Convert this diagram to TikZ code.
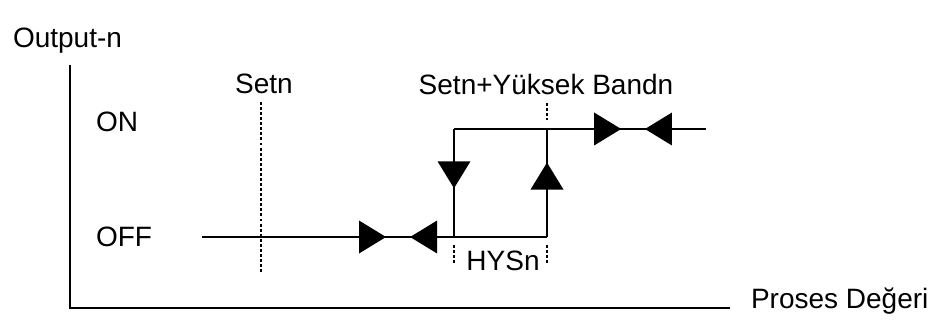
\documentclass[tikz,border=0pt]{standalone}
\usepackage{fontspec}
\setmainfont{Liberation Sans}
\usetikzlibrary{decorations.markings}

\begin{document}
\begin{tikzpicture}[x=0.75pt,y=0.75pt,every node/.style={inner sep=0pt,outer sep=0pt,font=\fontsize{21}{25}\selectfont}]

\useasboundingbox (0,0) rectangle (938,325);

\tikzstyle{wire}=[line width=1.6pt]
\tikzstyle{guide}=[line width=1.1pt,dash pattern=on 2.2pt off 1.6pt]
\tikzset{
    fwd/.style={postaction={decorate,decoration={markings,
        mark=at position #1 with {\fill (0,-16.5) -- (27,0) -- (0,16.5) -- cycle;}}}},
    bwd/.style={postaction={decorate,decoration={markings,
        mark=at position #1 with {\fill (0,-16.5) -- (-27,0) -- (0,16.5) -- cycle;}}}}
}

% axes
\coordinate (ytop) at (70,260);
\coordinate (O) at (70,17);
\coordinate (xend) at (730,17);
\draw[wire] (ytop) -- (O) -- (xend);
\node (yname) [anchor=base west] at (13,277) {Output-n};
\node (xname) [anchor=base west] at (751,17) {Proses Değeri};
\node (on) [anchor=base west] at (96,193) {ON};
\node (off) [anchor=base west] at (96,79) {OFF};

% switching curve
\coordinate (offstart) at (202,88);
\coordinate (lowL) at (454,88);
\coordinate (lowR) at (547,88);
\coordinate (highL) at (454,196);
\coordinate (highR) at (547,196);
\coordinate (onend) at (706,196);

\draw[wire,fwd=0.623,bwd=0.933] (offstart) -- (lowL);
\draw[wire] (lowL) -- (lowR);
\draw[wire,fwd=0.299] (highL) -- (lowL);
\draw[wire,fwd=0.439] (lowR) -- (highR);
\draw[wire,fwd=0.556,bwd=0.865] (highL) -- (onend);

% set points
\coordinate (setTop) at (261,223);
\coordinate (setBot) at (261,53);
\draw[guide] (setTop) -- (setBot);
\node (setn) [anchor=base] at (264,231) {Setn};
\coordinate (bandTop) at (547,222);
\draw[guide] (bandTop) -- ++(0,-17);
\node (band) [anchor=base] at (546,230) {Setn+Yüksek Bandn};

% hysteresis
\foreach \x in {454,547} {
    \draw[guide] (\x,80) -- (\x,62);
}
\node (hys) [anchor=base] at (503,55) {HYSn};
\end{tikzpicture}
\end{document}
